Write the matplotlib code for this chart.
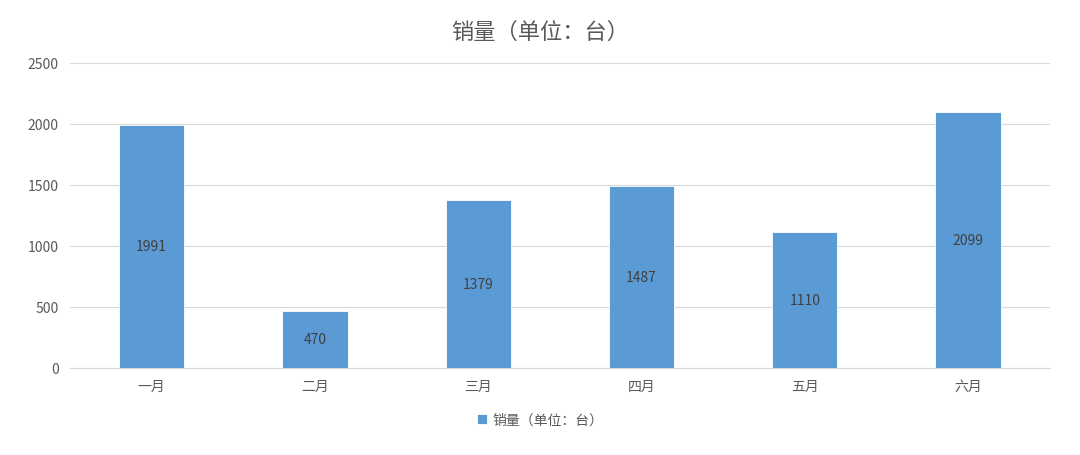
import matplotlib.pyplot as plt

plt.rcParams['font.family'] = ['Noto Sans CJK SC', 'DejaVu Sans']

months = ['一月', '二月', '三月', '四月', '五月', '六月']
sales = [1991, 470, 1379, 1487, 1110, 2099]
series_name = '销量（单位：台）'

fig = plt.figure(figsize=(10.8, 4.56), dpi=100)
ax = fig.add_axes([0.0648, 0.191, 0.9072, 0.669])

x = range(len(months))
bars = ax.bar(x, sales, width=0.4, color='#5B9BD5', edgecolor='white',
              linewidth=0.6, label=series_name, zorder=3)

for b, v in zip(bars, sales):
    ax.text(b.get_x() + b.get_width() / 2, v / 2, str(v), ha='center', va='center',
            fontsize=10, color='#404040', zorder=4)

ax.set_xlim(-0.5, len(months) - 0.5)
ax.set_ylim(0, 2500)
ax.set_yticks(range(0, 2501, 500))
ax.set_xticks(list(x))
ax.set_xticklabels(months)
ax.grid(axis='y', color='#D9D9D9', linewidth=0.8, zorder=0)
ax.tick_params(length=0, labelsize=10, colors='#595959', pad=8)
for s in ['top', 'right', 'left']:
    ax.spines[s].set_visible(False)
ax.spines['bottom'].set_color('#D9D9D9')

fig.text(0.5, 0.928, series_name, ha='center', va='center', fontsize=16,
         color='#595959')
fig.legend(loc='lower center', bbox_to_anchor=(0.5, 0.035), frameon=False,
           fontsize=10, labelcolor='#595959', handlelength=0.7, handleheight=0.7,
           handletextpad=0.4)

plt.savefig('out.png')
